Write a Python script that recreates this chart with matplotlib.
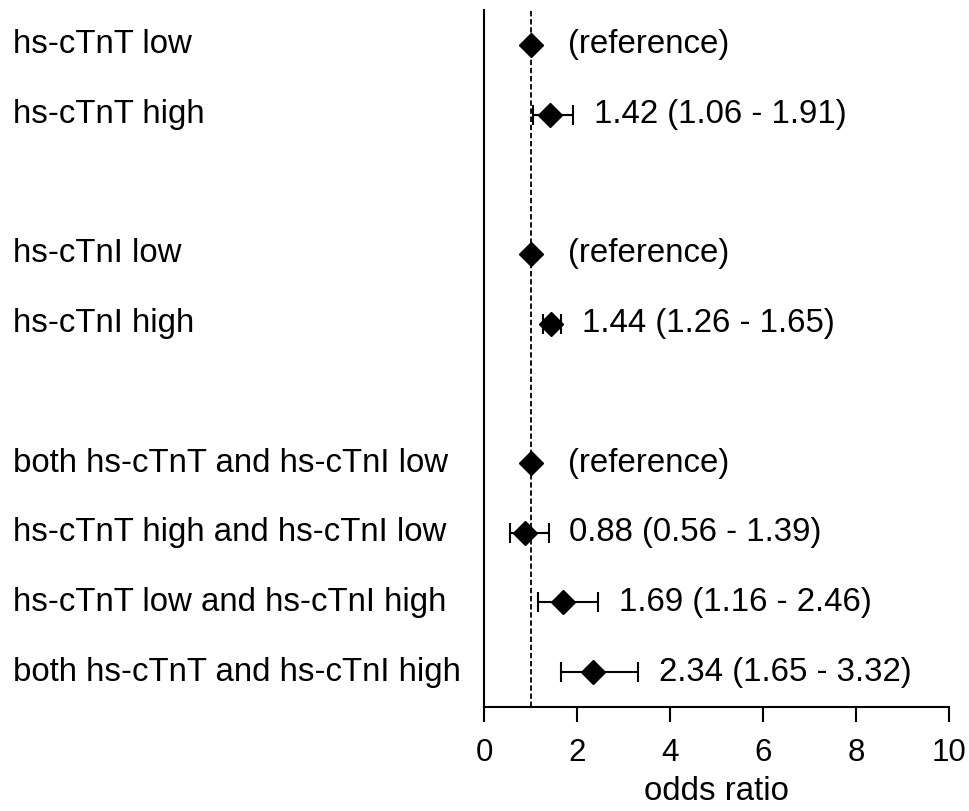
import numpy as np
import matplotlib.pyplot as plt
import matplotlib as mpl
from matplotlib.transforms import blended_transform_factory

mpl.rcParams.update({
    "font.family": ["Liberation Sans", "DejaVu Sans"],
    "font.size": 22,
})

labels = [
    "hs-cTnT low",
    "hs-cTnT high",
    None,
    "hs-cTnI low",
    "hs-cTnI high",
    None,
    "both hs-cTnT and hs-cTnI low",
    "hs-cTnT high and hs-cTnI low",
    "hs-cTnT low and hs-cTnI high",
    "both hs-cTnT and hs-cTnI high",
]
odds = [1.0, 1.42, None, 1.0, 1.44, None, 1.0, 0.88, 1.69, 2.34]
lower = [None, 1.06, None, None, 1.26, None, None, 0.56, 1.16, 1.65]
upper = [None, 1.91, None, None, 1.65, None, None, 1.39, 2.46, 3.32]

FS = 23.8


def main():
    fig = plt.figure(figsize=(9.69, 8.11), dpi=100)
    ax = fig.add_axes([484 / 969, 1 - 707 / 811, 465 / 969, 697 / 811])

    tr = blended_transform_factory(fig.transFigure, ax.transData)
    for i, (lab, o, lo, hi) in enumerate(zip(labels, odds, lower, upper)):
        if lab is None:
            continue
        ax.text(13 / 969, i, lab, transform=tr, ha="left", va="center",
                fontsize=FS)
        if lo is None:
            ax.plot(o, i, "D", color="black", ms=12.5, zorder=3)
            ax.annotate("(reference)", (o, i), xytext=(27, 0),
                        textcoords="offset points", ha="left", va="center",
                        fontsize=FS)
        else:
            ax.errorbar(o, i, xerr=[[o - lo], [hi - o]], fmt="D",
                        color="black", ms=12.5, lw=1.5, capsize=7,
                        capthick=1.5, zorder=3)
            ax.annotate(f"{o:.2f} ({lo:.2f} - {hi:.2f})", (hi, i),
                        xytext=(15, 0), textcoords="offset points",
                        ha="left", va="center", fontsize=FS)

    ax.axvline(1, color="black", ls=(0, (3, 1.5)), lw=1.3, zorder=1)

    ax.set_xlim(0, 10)
    ax.set_ylim(9.5, -0.5)
    ax.set_xticks(np.arange(0, 11, 2))
    ax.set_yticks([])
    ax.tick_params(axis="x", direction="out", length=11, width=1.5,
                   pad=11, labelsize=22.5)
    ax.set_xlabel("odds ratio", fontsize=FS, labelpad=6)
    for s in ["top", "right"]:
        ax.spines[s].set_visible(False)
    for s in ["left", "bottom"]:
        ax.spines[s].set_linewidth(1.5)

    fig.savefig("out.png", dpi=100, facecolor="white")
    plt.close(fig)


if __name__ == "__main__":
    main()
